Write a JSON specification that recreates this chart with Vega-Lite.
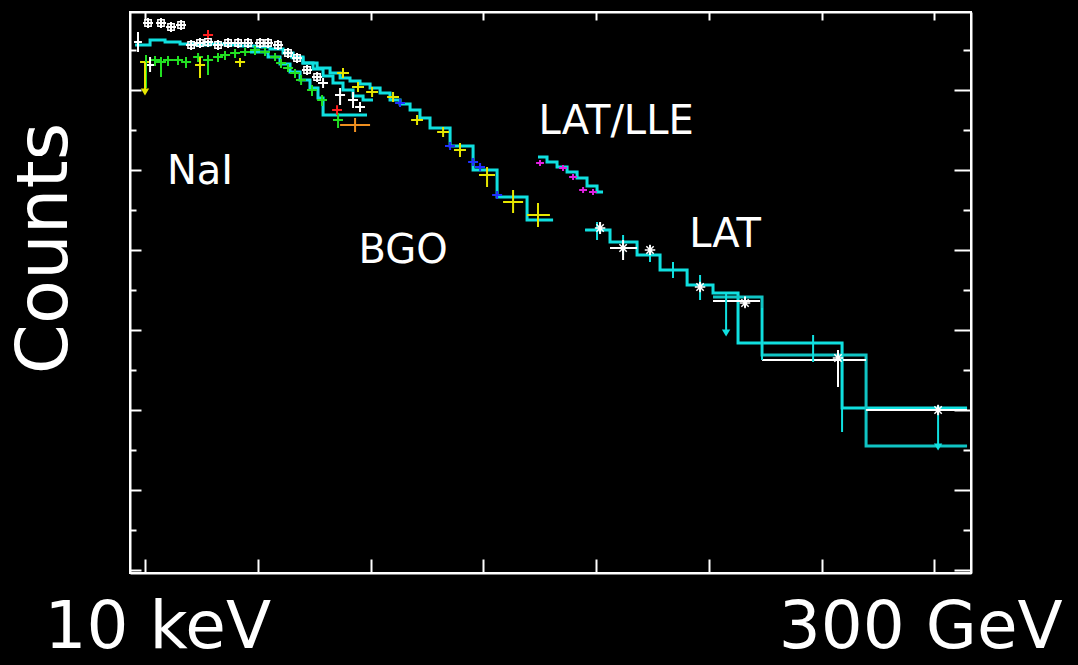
{
  "$schema": "https://vega.github.io/schema/vega-lite/v6.json",
  "width": 841,
  "height": 561,
  "autosize": {"type": "none"},
  "padding": {"left": 130, "top": 12, "right": 107, "bottom": 92},
  "background": "black",
  "config": {"view": {"stroke": "white", "strokeWidth": 2}, "font": "DejaVu Sans"},
  "datasets": {
    "steps": [
      {"det":"model","g":"m1","L":0.909,"M":2.5625},{"det":"model","g":"m1","L":1.042,"M":2.625},{"det":"model","g":"m1","L":1.175,"M":2.6},{"det":"model","g":"m1","L":1.308,"M":2.575},{"det":"model","g":"m1","L":1.441,"M":2.5625},{"det":"model","g":"m1","L":1.574,"M":2.575},{"det":"model","g":"m1","L":1.707,"M":2.5625},{"det":"model","g":"m1","L":1.84,"M":2.55},{"det":"model","g":"m1","L":1.973,"M":2.5375},{"det":"model","g":"m1","L":2.106,"M":2.5125},{"det":"model","g":"m1","L":2.222,"M":2.4625},{"det":"model","g":"m1","L":2.311,"M":2.4},{"det":"model","g":"m1","L":2.399,"M":2.3375},{"det":"model","g":"m1","L":2.488,"M":2.2625},{"det":"model","g":"m1","L":2.577,"M":2.175},{"det":"model","g":"m1","L":2.665,"M":2.0875},{"det":"model","g":"m1","L":2.754,"M":2.0},{"det":"model","g":"m1","L":2.843,"M":1.925},{"det":"model","g":"m1","L":2.932,"M":1.875},{"det":"model","g":"m1","L":3.02,"M":1.875},
      {"det":"model","g":"m2","L":1.929,"M":2.475},{"det":"model","g":"m2","L":2.089,"M":2.4125},{"det":"model","g":"m2","L":2.195,"M":2.325},{"det":"model","g":"m2","L":2.284,"M":2.225},{"det":"model","g":"m2","L":2.373,"M":2.125},{"det":"model","g":"m2","L":2.461,"M":2.025},{"det":"model","g":"m2","L":2.532,"M":1.9},{"det":"model","g":"m2","L":2.577,"M":1.6875},{"det":"model","g":"m2","L":2.967,"M":1.6875},
      {"det":"model","g":"m3","L":2.284,"M":2.4125},{"det":"model","g":"m3","L":2.399,"M":2.3375},{"det":"model","g":"m3","L":2.524,"M":2.275},{"det":"model","g":"m3","L":2.639,"M":2.2125},{"det":"model","g":"m3","L":2.728,"M":2.15},{"det":"model","g":"m3","L":2.816,"M":2.1125},{"det":"model","g":"m3","L":2.905,"M":2.075},{"det":"model","g":"m3","L":2.994,"M":2.025},{"det":"model","g":"m3","L":3.083,"M":1.9625},{"det":"model","g":"m3","L":3.171,"M":1.875},{"det":"model","g":"m3","L":3.26,"M":1.825},{"det":"model","g":"m3","L":3.349,"M":1.75},{"det":"model","g":"m3","L":3.437,"M":1.65},{"det":"model","g":"m3","L":3.526,"M":1.525},{"det":"model","g":"m3","L":3.704,"M":1.3},{"det":"model","g":"m3","L":3.908,"M":1.0},{"det":"model","g":"m3","L":4.121,"M":0.6625},{"det":"model","g":"m3","L":4.387,"M":0.375},{"det":"model","g":"m3","L":4.618,"M":0.375},
      {"det":"model","g":"m4","L":4.484,"M":1.1625},{"det":"model","g":"m4","L":4.564,"M":1.1},{"det":"model","g":"m4","L":4.653,"M":1.0375},{"det":"model","g":"m4","L":4.742,"M":0.975},{"det":"model","g":"m4","L":4.831,"M":0.9},{"det":"model","g":"m4","L":4.919,"M":0.8},{"det":"model","g":"m4","L":5.008,"M":0.725},{"det":"model","g":"m4","L":5.061,"M":0.725},
      {"det":"model","g":"m5","L":4.902,"M":0.25},{"det":"model","g":"m5","L":5.123,"M":0.1},{"det":"model","g":"m5","L":5.363,"M":-0.0625},{"det":"model","g":"m5","L":5.567,"M":-0.25},{"det":"model","g":"m5","L":5.807,"M":-0.4375},{"det":"model","g":"m5","L":6.037,"M":-0.5375},{"det":"model","g":"m5","L":6.259,"M":-1.1625},{"det":"model","g":"m5","L":7.182,"M":-1.975},{"det":"model","g":"m5","L":8.291,"M":-1.975},
      {"det":"model2","g":"m6","L":6.037,"M":-0.5875},{"det":"model2","g":"m6","L":6.472,"M":-1.3125},{"det":"model2","g":"m6","L":7.395,"M":-2.45},{"det":"model2","g":"m6","L":8.291,"M":-2.45}
    ],
    "hbars": [
      {"det":"NaI n0","L":0.98,"L2":1.068,"M":2.8375},{"det":"NaI n0","L":1.095,"L2":1.184,"M":2.8375},{"det":"NaI n0","L":1.184,"L2":1.272,"M":2.7875},{"det":"NaI n0","L":1.272,"L2":1.361,"M":2.8125},{"det":"NaI n0","L":1.361,"L2":1.45,"M":2.5625},{"det":"NaI n0","L":1.441,"L2":1.53,"M":2.5875},{"det":"NaI n0","L":1.512,"L2":1.601,"M":2.6},{"det":"NaI n0","L":1.601,"L2":1.69,"M":2.5625},{"det":"NaI n0","L":1.69,"L2":1.778,"M":2.5875},{"det":"NaI n0","L":1.778,"L2":1.867,"M":2.5875},{"det":"NaI n0","L":1.867,"L2":1.956,"M":2.5875},{"det":"NaI n0","L":1.973,"L2":2.062,"M":2.5875},{"det":"NaI n0","L":2.044,"L2":2.133,"M":2.5875},{"det":"NaI n0","L":2.133,"L2":2.222,"M":2.5625},{"det":"NaI n0","L":0.9,"L2":0.97,"M":2.6},{"det":"NaI n0","L":1.0,"L2":1.085,"M":2.3125},{"det":"NaI n0","L":2.222,"L2":2.311,"M":2.4625},{"det":"NaI n0","L":2.302,"L2":2.39,"M":2.4},{"det":"NaI n0","L":2.39,"L2":2.479,"M":2.25},{"det":"NaI n0","L":2.479,"L2":2.568,"M":2.1625},{"det":"NaI n0","L":2.532,"L2":2.621,"M":2.0875},{"det":"NaI n0","L":2.683,"L2":2.772,"M":1.9375},{"det":"NaI n0","L":2.798,"L2":2.887,"M":1.875},{"det":"NaI n0","L":2.861,"L2":2.949,"M":1.7875},
      {"det":"NaI n1","L":0.962,"L2":1.05,"M":2.35},{"det":"NaI n1","L":1.042,"L2":1.131,"M":2.375},{"det":"NaI n1","L":1.095,"L2":1.184,"M":2.35},{"det":"NaI n1","L":1.157,"L2":1.246,"M":2.375},{"det":"NaI n1","L":1.246,"L2":1.335,"M":2.375},{"det":"NaI n1","L":1.317,"L2":1.406,"M":2.35},{"det":"NaI n1","L":1.424,"L2":1.512,"M":2.4125},{"det":"NaI n1","L":1.512,"L2":1.601,"M":2.375},{"det":"NaI n1","L":1.601,"L2":1.69,"M":2.4125},{"det":"NaI n1","L":1.663,"L2":1.752,"M":2.4375},{"det":"NaI n1","L":1.752,"L2":1.84,"M":2.4625},{"det":"NaI n1","L":1.84,"L2":1.929,"M":2.475},{"det":"NaI n1","L":1.929,"L2":2.018,"M":2.5},{"det":"NaI n1","L":2.018,"L2":2.106,"M":2.475},{"det":"NaI n1","L":2.106,"L2":2.195,"M":2.4125},{"det":"NaI n1","L":2.16,"L2":2.249,"M":2.3375},{"det":"NaI n1","L":2.222,"L2":2.311,"M":2.275},{"det":"NaI n1","L":2.284,"L2":2.373,"M":2.2125},{"det":"NaI n1","L":2.337,"L2":2.426,"M":2.125},{"det":"NaI n1","L":2.435,"L2":2.524,"M":2.0},{"det":"NaI n1","L":2.524,"L2":2.612,"M":1.875},{"det":"NaI n1","L":2.665,"L2":2.754,"M":1.625},
      {"det":"NaI n3","L":1.441,"L2":1.53,"M":2.3125},{"det":"NaI n3","L":1.796,"L2":1.885,"M":2.35},{"det":"NaI n3","L":0.953,"L2":1.042,"M":2.35},
      {"det":"NaI n9","L":2.728,"L2":2.994,"M":1.5625},
      {"det":"NaI n6","L":1.512,"L2":1.601,"M":2.6875},{"det":"NaI n6","L":2.657,"L2":2.745,"M":1.75},
      {"det":"BGO b0","L":2.701,"L2":2.807,"M":2.2125},{"det":"BGO b0","L":2.834,"L2":2.94,"M":2.0375},{"det":"BGO b0","L":2.959,"L2":3.065,"M":1.975},{"det":"BGO b0","L":3.145,"L2":3.251,"M":1.9125},{"det":"BGO b0","L":3.358,"L2":3.464,"M":1.625},{"det":"BGO b0","L":3.589,"L2":3.695,"M":1.475},{"det":"BGO b0","L":3.739,"L2":3.845,"M":1.25},{"det":"BGO b0","L":3.961,"L2":4.103,"M":0.9375},{"det":"BGO b0","L":4.174,"L2":4.352,"M":0.6},{"det":"BGO b0","L":4.387,"L2":4.59,"M":0.4375},
      {"det":"BGO b1","L":3.216,"L2":3.304,"M":1.8375},{"det":"BGO b1","L":3.864,"L2":3.952,"M":1.1},{"det":"BGO b1","L":3.925,"L2":4.014,"M":1.0375},{"det":"BGO b1","L":4.077,"L2":4.166,"M":0.6875},{"det":"BGO b1","L":3.659,"L2":3.748,"M":1.3},
      {"det":"LLE","L":4.467,"L2":4.537,"M":1.0875},{"det":"LLE","L":4.671,"L2":4.741,"M":1.025},{"det":"LLE","L":4.76,"L2":4.83,"M":0.9125},{"det":"LLE","L":4.849,"L2":4.919,"M":0.75},{"det":"LLE","L":4.937,"L2":5.007,"M":0.725},
      {"det":"LAT front","L":4.902,"L2":5.123,"M":0.25},{"det":"LAT front","L":5.123,"L2":5.363,"M":0.1},{"det":"LAT front","L":5.363,"L2":5.567,"M":-0.0625},{"det":"LAT front","L":5.567,"L2":5.807,"M":-0.25},{"det":"LAT front","L":5.807,"L2":6.037,"M":-0.4375},{"det":"LAT front","L":6.037,"L2":6.259,"M":-0.5375},{"det":"LAT front","L":6.88,"L2":6.97,"M":-1.1625},
      {"det":"LAT back","L":5.123,"L2":5.363,"M":0.025},{"det":"LAT back","L":6.037,"L2":6.454,"M":-0.6375},{"det":"LAT back","L":6.472,"L2":7.395,"M":-1.375},{"det":"LAT back","L":7.395,"L2":8.291,"M":-2.0}
    ],
    "vbars": [
      {"det":"NaI n0","L":1.024,"M":2.775,"M2":2.9},{"det":"NaI n0","L":1.139,"M":2.775,"M2":2.9},{"det":"NaI n0","L":1.228,"M":2.725,"M2":2.85},{"det":"NaI n0","L":1.317,"M":2.75,"M2":2.875},{"det":"NaI n0","L":1.406,"M":2.5,"M2":2.625},{"det":"NaI n0","L":1.485,"M":2.525,"M2":2.65},{"det":"NaI n0","L":1.556,"M":2.5375,"M2":2.6625},{"det":"NaI n0","L":1.645,"M":2.5,"M2":2.625},{"det":"NaI n0","L":1.734,"M":2.525,"M2":2.65},{"det":"NaI n0","L":1.823,"M":2.525,"M2":2.65},{"det":"NaI n0","L":1.911,"M":2.525,"M2":2.65},{"det":"NaI n0","L":2.018,"M":2.525,"M2":2.65},{"det":"NaI n0","L":2.089,"M":2.525,"M2":2.65},{"det":"NaI n0","L":2.177,"M":2.5,"M2":2.625},{"det":"NaI n0","L":0.935,"M":2.475,"M2":2.725},{"det":"NaI n0","L":1.042,"M":2.225,"M2":2.4125},{"det":"NaI n0","L":2.266,"M":2.4,"M2":2.525},{"det":"NaI n0","L":2.346,"M":2.3375,"M2":2.4625},{"det":"NaI n0","L":2.435,"M":2.1875,"M2":2.3125},{"det":"NaI n0","L":2.524,"M":2.1,"M2":2.225},{"det":"NaI n0","L":2.577,"M":2.025,"M2":2.15},{"det":"NaI n0","L":2.728,"M":1.8125,"M2":2.025},{"det":"NaI n0","L":2.843,"M":1.775,"M2":1.975},{"det":"NaI n0","L":2.905,"M":1.725,"M2":1.85},
      {"det":"NaI n1","L":1.006,"M":2.025,"M2":2.4375},{"det":"NaI n1","L":1.086,"M":2.3,"M2":2.425},{"det":"NaI n1","L":1.139,"M":2.1625,"M2":2.4125},{"det":"NaI n1","L":1.201,"M":2.3,"M2":2.425},{"det":"NaI n1","L":1.29,"M":2.3125,"M2":2.425},{"det":"NaI n1","L":1.361,"M":2.275,"M2":2.4125},{"det":"NaI n1","L":1.468,"M":2.35,"M2":2.4625},{"det":"NaI n1","L":1.556,"M":2.1875,"M2":2.4375},{"det":"NaI n1","L":1.645,"M":2.35,"M2":2.4625},{"det":"NaI n1","L":1.707,"M":2.375,"M2":2.4875},{"det":"NaI n1","L":1.796,"M":2.4,"M2":2.5125},{"det":"NaI n1","L":1.885,"M":2.425,"M2":2.525},{"det":"NaI n1","L":1.973,"M":2.4375,"M2":2.55},{"det":"NaI n1","L":2.062,"M":2.425,"M2":2.525},{"det":"NaI n1","L":2.151,"M":2.3625,"M2":2.4625},{"det":"NaI n1","L":2.204,"M":2.275,"M2":2.3875},{"det":"NaI n1","L":2.266,"M":2.225,"M2":2.325},{"det":"NaI n1","L":2.328,"M":2.15,"M2":2.2625},{"det":"NaI n1","L":2.382,"M":2.0625,"M2":2.1875},{"det":"NaI n1","L":2.479,"M":1.925,"M2":2.0625},{"det":"NaI n1","L":2.568,"M":1.8,"M2":1.9375},{"det":"NaI n1","L":2.71,"M":1.525,"M2":1.7125},
      {"det":"NaI n3","L":1.485,"M":2.15,"M2":2.4125},{"det":"NaI n3","L":1.84,"M":2.2875,"M2":2.4},{"det":"NaI n3","L":0.997,"M":1.975,"M2":2.35},
      {"det":"NaI n9","L":2.861,"M":1.475,"M2":1.65},
      {"det":"NaI n6","L":1.556,"M":2.625,"M2":2.75},{"det":"NaI n6","L":2.701,"M":1.69,"M2":1.81},
      {"det":"BGO b0","L":2.754,"M":2.15,"M2":2.275},{"det":"BGO b0","L":2.887,"M":1.975,"M2":2.1},{"det":"BGO b0","L":3.012,"M":1.9125,"M2":2.0375},{"det":"BGO b0","L":3.198,"M":1.85,"M2":1.975},{"det":"BGO b0","L":3.411,"M":1.5625,"M2":1.6875},{"det":"BGO b0","L":3.642,"M":1.4125,"M2":1.5375},{"det":"BGO b0","L":3.792,"M":1.1625,"M2":1.3375},{"det":"BGO b0","L":4.032,"M":0.7875,"M2":1.0375},{"det":"BGO b0","L":4.263,"M":0.4625,"M2":0.75},{"det":"BGO b0","L":4.484,"M":0.2875,"M2":0.5875},
      {"det":"BGO b1","L":3.26,"M":1.7875,"M2":1.8875},{"det":"BGO b1","L":3.908,"M":1.05,"M2":1.15},{"det":"BGO b1","L":3.97,"M":0.9875,"M2":1.0875},{"det":"BGO b1","L":4.121,"M":0.6375,"M2":0.7375},{"det":"BGO b1","L":3.704,"M":1.25,"M2":1.35},
      {"det":"LLE","L":4.502,"M":1.05,"M2":1.125},{"det":"LLE","L":4.706,"M":0.9875,"M2":1.0625},{"det":"LLE","L":4.795,"M":0.875,"M2":0.95},{"det":"LLE","L":4.884,"M":0.7125,"M2":0.7875},{"det":"LLE","L":4.972,"M":0.6875,"M2":0.7625},
      {"det":"LAT front","L":5.008,"M":0.125,"M2":0.35},{"det":"LAT front","L":5.239,"M":-0.0625,"M2":0.1875},{"det":"LAT front","L":5.478,"M":-0.15,"M2":0.0625},{"det":"LAT front","L":5.682,"M":-0.35,"M2":-0.15},{"det":"LAT front","L":5.922,"M":-0.625,"M2":-0.3125},{"det":"LAT front","L":6.153,"M":-1.0375,"M2":-0.5375},{"det":"LAT front","L":6.925,"M":-1.4,"M2":-1.0625},{"det":"LAT front","L":6.472,"M":-1.375,"M2":-0.725},{"det":"LAT front","L":7.182,"M":-2.275,"M2":-1.1625},{"det":"LAT front","L":8.034,"M":-2.4625,"M2":-2.0},
      {"det":"LAT back","L":5.035,"M":0.2,"M2":0.35},{"det":"LAT back","L":5.239,"M":-0.125,"M2":0.125},{"det":"LAT back","L":5.478,"M":-0.06,"M2":0.06},{"det":"LAT back","L":5.922,"M":-0.52,"M2":-0.4},{"det":"LAT back","L":6.321,"M":-0.72,"M2":-0.58},{"det":"LAT back","L":7.146,"M":-1.7125,"M2":-1.25},{"det":"LAT back","L":8.034,"M":-2.06,"M2":-1.94}
    ],
    "squares": [
      {"det":"NaI n0","L":1.024,"M":2.8375},{"det":"NaI n0","L":1.139,"M":2.8375},{"det":"NaI n0","L":1.228,"M":2.7875},{"det":"NaI n0","L":1.317,"M":2.8125},{"det":"NaI n0","L":1.406,"M":2.5625},{"det":"NaI n0","L":1.485,"M":2.5875},{"det":"NaI n0","L":1.556,"M":2.6},{"det":"NaI n0","L":1.645,"M":2.5625},{"det":"NaI n0","L":1.734,"M":2.5875},{"det":"NaI n0","L":1.823,"M":2.5875},{"det":"NaI n0","L":1.911,"M":2.5875},{"det":"NaI n0","L":2.018,"M":2.5875},{"det":"NaI n0","L":2.089,"M":2.5875},{"det":"NaI n0","L":2.177,"M":2.5625},{"det":"NaI n0","L":2.266,"M":2.4625},{"det":"NaI n0","L":2.346,"M":2.4},{"det":"NaI n0","L":2.435,"M":2.25},{"det":"NaI n0","L":2.524,"M":2.1625}
    ],
    "stars": [
      {"det":"LAT back","L":5.035,"M":0.275},{"det":"LAT back","L":5.239,"M":0.025},{"det":"LAT back","L":5.478,"M":0.0},{"det":"LAT back","L":5.922,"M":-0.4625},{"det":"LAT back","L":6.321,"M":-0.6625},{"det":"LAT back","L":7.146,"M":-1.35},{"det":"LAT back","L":8.034,"M":-2.0}
    ],
    "arrows": [
      {"det":"NaI n3","L":0.997,"M":1.975},{"det":"LAT front","L":6.153,"M":-1.0375},{"det":"LAT front","L":8.034,"M":-2.4625}
    ],
    "labels": [
      {"text":"NaI","L":1.485,"M":0.975},{"text":"BGO","L":3.287,"M":-0.0125},{"text":"LAT/LLE","L":5.177,"M":1.6},{"text":"LAT","L":6.144,"M":0.1875}
    ]
  },
  "layer": [
    {
      "encoding": {
        "x": {"field": "L", "type": "quantitative",
          "scale": {"domain": [0.864, 8.326], "nice": false, "zero": false},
          "axis": {"orient": "bottom", "values": [1,2,3,4,5,6,7,8], "title": null, "grid": false,
            "labelExpr": "datum.value == 1 ? '10 keV' : datum.value == 8 ? '300 GeV' : ''",
            "labelFont": "DejaVu Sans", "labelFontSize": 66, "labelColor": "white", "labelLimit": 0,
            "labelPadding": 36, "labelOverlap": false, "labelBound": false, "labelFlush": false,
            "labelOffset": {"condition": {"test": "datum.value == 1", "value": 12}, "value": -14},
            "tickSize": -14, "tickColor": "white", "tickWidth": 2,
            "domainColor": "white", "domainWidth": 2}},
        "y": {"field": "M", "type": "quantitative",
          "scale": {"domain": [-4.0375, 2.975], "nice": false, "zero": false},
          "axis": {"orient": "left", "values": [-4,-3.5,-3,-2.5,-2,-1.5,-1,-0.5,0,0.5,1,1.5,2,2.5], "grid": false,
            "labels": false, "title": "Counts", "titleFont": "DejaVu Sans", "titleFontSize": 72,
            "titleFontWeight": "normal", "titleColor": "white", "titleAngle": 270, "titleLimit": 0,
            "titleX": -86, "titleY": 236, "titleAlign": "center", "titleBaseline": "middle",
            "tickSize": {"condition": {"test": "datum.value % 1 == 0", "value": -11}, "value": -6},
            "tickColor": "white", "tickWidth": 2, "domainColor": "white", "domainWidth": 2}},
        "color": {"field": "det", "type": "nominal", "legend": null,
          "scale": {"domain": ["NaI n0","NaI n1","NaI n3","NaI n6","NaI n9","BGO b0","BGO b1","LLE","LAT front","LAT back","model","model2"],
                    "range": ["#ffffff","#22e022","#e6e600","#ff2020","#f09020","#e6e600","#2030ff","#e020e0","#10e0e0","#ffffff","#10e0e0","#10c4c4"]}}
      },
      "layer": [
        {"data": {"name": "steps"}, "mark": {"type": "line", "interpolate": "step-after", "strokeWidth": 3},
          "encoding": {"detail": {"field": "g"}}},
        {"data": {"name": "hbars"}, "mark": {"type": "rule", "strokeWidth": 2},
          "encoding": {"x2": {"field": "L2"}}},
        {"data": {"name": "vbars"}, "mark": {"type": "rule", "strokeWidth": 2},
          "encoding": {"y2": {"field": "M2"}}},
        {"data": {"name": "squares"}, "mark": {"type": "point", "shape": "square", "filled": false, "size": 40, "strokeWidth": 1.5, "opacity": 1}},
        {"data": {"name": "stars"}, "mark": {"type": "point", "shape": "M-1,0L1,0M0,-1L0,1M-0.7,-0.7L0.7,0.7M-0.7,0.7L0.7,-0.7", "filled": false, "size": 110, "strokeWidth": 1.5, "opacity": 1}},
        {"data": {"name": "arrows"}, "mark": {"type": "point", "shape": "triangle-down", "filled": true, "size": 70, "opacity": 1}},
        {"data": {"name": "labels"}, "mark": {"type": "text", "font": "DejaVu Sans", "fontSize": 40, "align": "center", "baseline": "middle"},
          "encoding": {"text": {"field": "text"}, "color": {"value": "white"}}}
      ]
    },
    {
      "data": {"name": "labels"},
      "mark": {"type": "point", "opacity": 0},
      "encoding": {
        "x": {"field": "L", "type": "quantitative",
          "scale": {"domain": [0.864, 8.326], "nice": false, "zero": false},
          "axis": {"orient": "top", "values": [1,2,3,4,5,6,7,8], "labels": false, "title": null, "grid": false,
            "tickSize": -8, "tickColor": "white", "tickWidth": 2, "domainColor": "white", "domainWidth": 2}},
        "y": {"field": "M", "type": "quantitative",
          "scale": {"domain": [-4.0375, 2.975], "nice": false, "zero": false},
          "axis": {"orient": "right", "values": [-4,-3.5,-3,-2.5,-2,-1.5,-1,-0.5,0,0.5,1,1.5,2,2.5], "labels": false, "title": null, "grid": false,
            "tickSize": {"condition": {"test": "datum.value % 1 == 0", "value": -17}, "value": -8},
            "tickColor": "white", "tickWidth": 2, "domainColor": "white", "domainWidth": 2}}
      }
    }
  ],
  "resolve": {"axis": {"x": "independent", "y": "independent"}}
}
